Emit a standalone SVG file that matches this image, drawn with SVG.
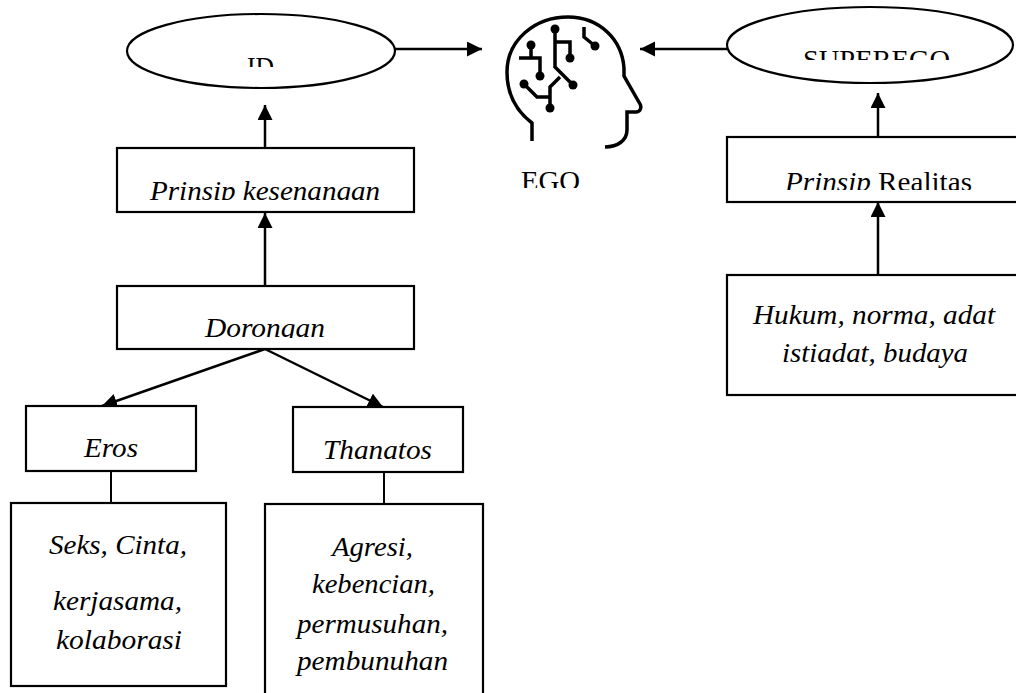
<svg xmlns="http://www.w3.org/2000/svg" width="1016" height="693" viewBox="0 0 1016 693">
<style>
.box{fill:#fff;stroke:#000;stroke-width:2.2}
.t{font-family:"Liberation Serif","Times New Roman",serif;font-size:28px;fill:#000}
.i{font-style:italic}
.c{fill:none;stroke:#000;stroke-width:2.5}
.ic{fill:none;stroke:#000;stroke-width:3.5;stroke-linejoin:miter}
</style>
<defs>
<marker id="ah" markerUnits="userSpaceOnUse" markerWidth="16" markerHeight="16" refX="15" refY="7.5" orient="auto">
<path d="M0,0 L15,7.5 L0,15 z" fill="#000"/>
</marker>
<clipPath id="cID"><rect x="0" y="0" width="1016" height="67"/></clipPath>
<clipPath id="cSE"><rect x="0" y="0" width="1016" height="60"/></clipPath>
<clipPath id="cEGO"><rect x="0" y="0" width="1016" height="188"/></clipPath>
<clipPath id="cPK"><rect x="0" y="0" width="1016" height="200"/></clipPath>
<clipPath id="cPR"><rect x="0" y="0" width="1016" height="190"/></clipPath>
<clipPath id="cDO"><rect x="0" y="0" width="1016" height="338"/></clipPath>
</defs>
<rect width="1016" height="693" fill="#fff"/>

<g id="connectors">
<path class="c" d="M395,49 L482,49" marker-end="url(#ah)"/>
<path class="c" d="M727,49 L640,49" marker-end="url(#ah)"/>
<path class="c" d="M265,148 L265,105" marker-end="url(#ah)"/>
<path class="c" d="M265,286 L265,213" marker-end="url(#ah)"/>
<path class="c" d="M265,349 L102,406" marker-end="url(#ah)"/>
<path class="c" d="M265,349 L383,407" marker-end="url(#ah)"/>
<path class="c" d="M878,137 L878,93" marker-end="url(#ah)"/>
<path class="c" d="M878,275 L878,202" marker-end="url(#ah)"/>
<path class="c" style="stroke-width:2" d="M111,471 L111,503"/>
<path class="c" style="stroke-width:2" d="M384,472 L384,504"/>
</g>

<g id="id">
<ellipse class="box" cx="261" cy="51" rx="134" ry="37"/>
<text class="t" x="247" y="75.5" textLength="27" lengthAdjust="spacingAndGlyphs" clip-path="url(#cID)">ID</text>
</g>

<g id="superego">
<ellipse class="box" cx="870" cy="45" rx="143" ry="38"/>
<text class="t" x="803" y="68.5" textLength="147" lengthAdjust="spacingAndGlyphs" clip-path="url(#cSE)">SUPEREGO</text>
</g>

<g id="ego">
<path class="ic" d="M532,141 L532,123 C515,110 507,92 507,72 C507,40 535,17 568,17 C600,17 622,40 624,68 L624,76 L640,104 C642,108 640,112 636,112 L627,112 L627,130 C627,140 618,147 605,147"/>
<path class="ic" d="M555,29 L555,67 L573,85"/>
<path class="ic" d="M555,42 L570,42 L570,58"/>
<path class="ic" d="M531,45 L531,58 M519,58 L540,58 L540,76"/>
<path class="ic" d="M524,84 L537,97 L550,97 L550,87 L560,77 M550,97 L550,108"/>
<path class="ic" d="M584,27 L584,37 L595,46"/>
<g fill="#000">
<circle cx="555" cy="29" r="4.5"/>
<circle cx="573" cy="85" r="4.5"/>
<circle cx="570" cy="58" r="4.5"/>
<circle cx="531" cy="45" r="4.5"/>
<circle cx="540" cy="76" r="4.5"/>
<circle cx="524" cy="84" r="4.5"/>
<circle cx="550" cy="108" r="4.5"/>
<circle cx="595" cy="46" r="4.5"/>
</g>
<text class="t" x="521" y="189.5" textLength="59" lengthAdjust="spacingAndGlyphs" clip-path="url(#cEGO)">EGO</text>
</g>

<g id="prinsip-kesenangan">
<rect class="box" x="117" y="148" width="297" height="64"/>
<text class="t i" x="150" y="200" textLength="230" lengthAdjust="spacingAndGlyphs" clip-path="url(#cPK)">Prinsip kesenangan</text>
</g>

<g id="prinsip-realitas">
<rect class="box" x="727" y="137" width="300" height="65"/>
<text class="t" x="785" y="191" textLength="187" lengthAdjust="spacingAndGlyphs" clip-path="url(#cPR)"><tspan class="i">Prinsip</tspan> Realitas</text>
</g>

<g id="hukum">
<rect class="box" x="727" y="275" width="300" height="120"/>
<text class="t i" x="753" y="324" textLength="242" lengthAdjust="spacingAndGlyphs">Hukum, norma, adat</text>
<text class="t i" x="782" y="362" textLength="186" lengthAdjust="spacingAndGlyphs">istiadat, budaya</text>
</g>

<g id="dorongan">
<rect class="box" x="117" y="286" width="297" height="63"/>
<text class="t i" x="205" y="337" textLength="120" lengthAdjust="spacingAndGlyphs" clip-path="url(#cDO)">Dorongan</text>
</g>

<g id="eros">
<rect class="box" x="26" y="406" width="170" height="65"/>
<text class="t i" x="84" y="457" textLength="54" lengthAdjust="spacingAndGlyphs">Eros</text>
</g>

<g id="thanatos">
<rect class="box" x="293" y="407" width="170" height="65"/>
<text class="t i" x="323" y="459" textLength="109" lengthAdjust="spacingAndGlyphs">Thanatos</text>
</g>

<g id="seks">
<rect class="box" x="11" y="503" width="215" height="183"/>
<text class="t i" x="49" y="554" textLength="138" lengthAdjust="spacingAndGlyphs">Seks, Cinta,</text>
<text class="t i" x="53" y="610" textLength="129" lengthAdjust="spacingAndGlyphs">kerjasama,</text>
<text class="t i" x="56" y="649" textLength="126" lengthAdjust="spacingAndGlyphs">kolaborasi</text>
</g>

<g id="agresi">
<rect class="box" x="265" y="504" width="218" height="200"/>
<text class="t i" x="332" y="556" textLength="81" lengthAdjust="spacingAndGlyphs">Agresi,</text>
<text class="t i" x="312" y="593" textLength="123" lengthAdjust="spacingAndGlyphs">kebencian,</text>
<text class="t i" x="297" y="633" textLength="151" lengthAdjust="spacingAndGlyphs">permusuhan,</text>
<text class="t i" x="297" y="670" textLength="151" lengthAdjust="spacingAndGlyphs">pembunuhan</text>
</g>
</svg>
